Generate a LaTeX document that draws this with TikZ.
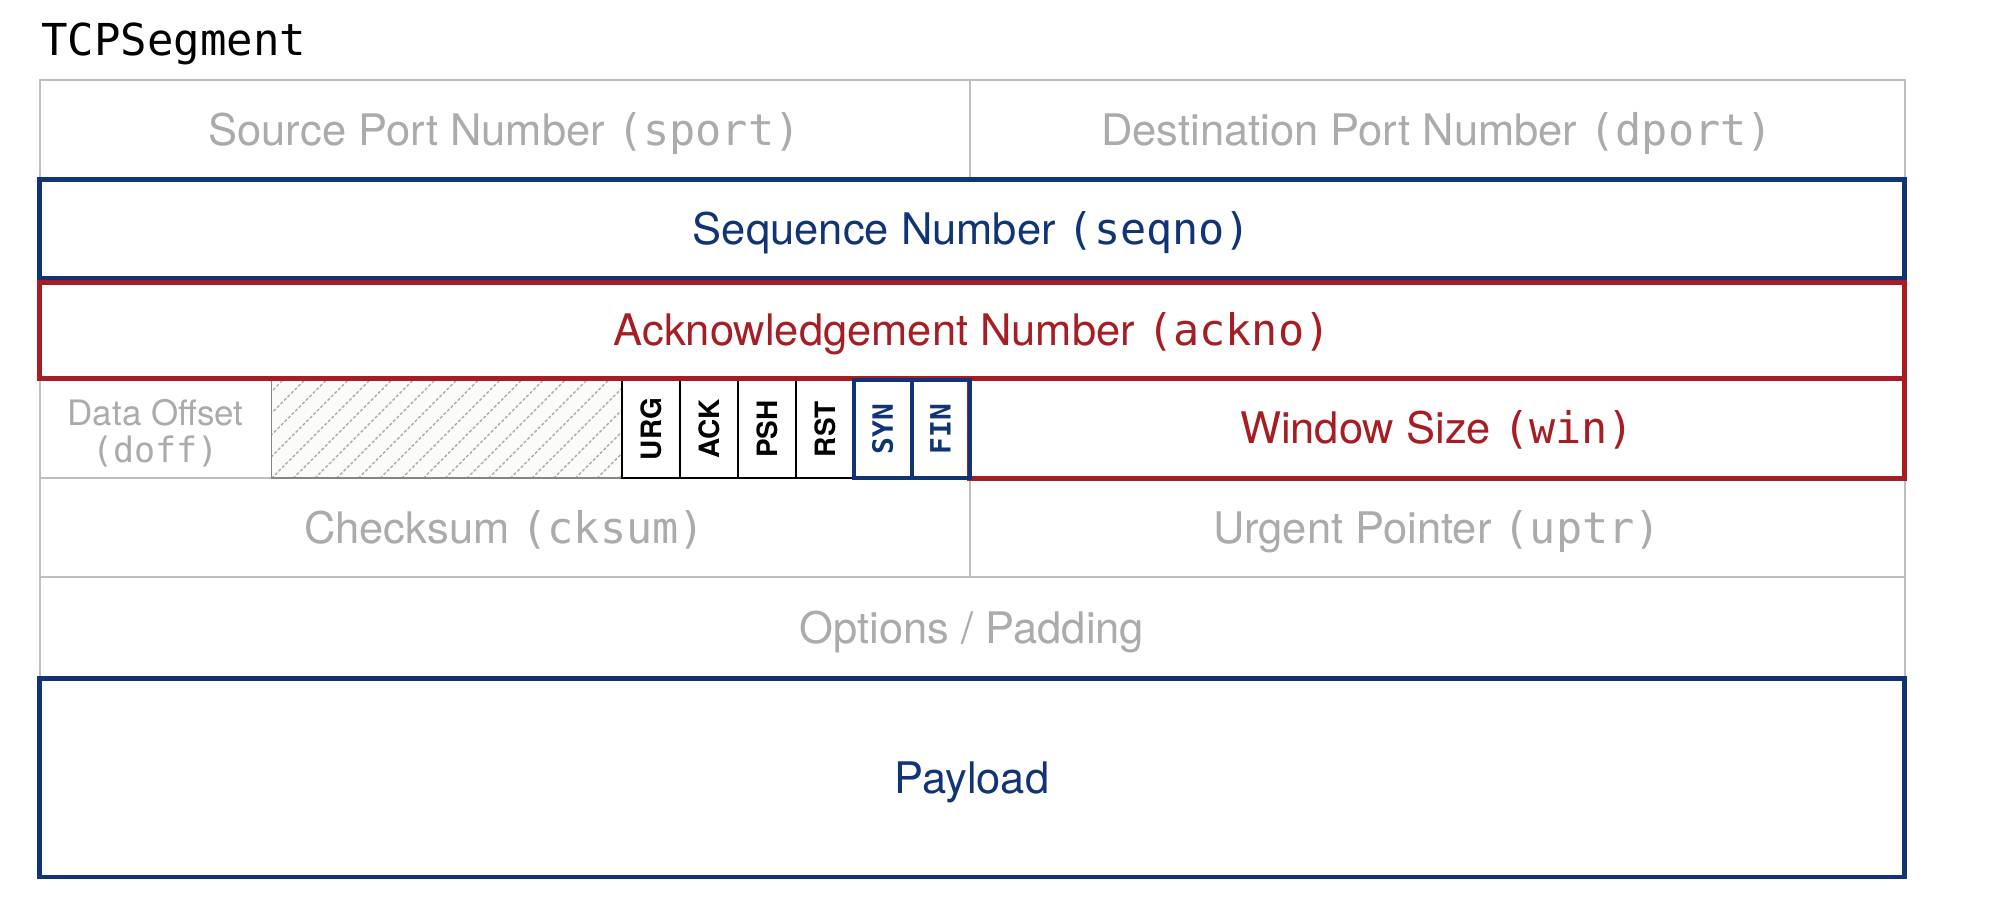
\documentclass[tikz,border=0pt]{standalone}
\usepackage{fontspec}
\setmainfont{TeX Gyre Heros}
\setmonofont{DejaVu Sans Mono}
\definecolor{navy}{HTML}{103475}
\definecolor{crim}{HTML}{A61E24}
\definecolor{ltext}{HTML}{ABABAB}
\definecolor{lline}{HTML}{BEBEBE}
\definecolor{hatchc}{HTML}{ACACAC}
\definecolor{hborder}{HTML}{858585}
\definecolor{hfill}{HTML}{FBFBF9}
\newcommand\biglbl{\fontsize{43.5}{50}\selectfont}
\newcommand\midlbl{\fontsize{35}{37}\selectfont}
\newcommand\flaglbl{\fontsize{28}{30}\selectfont}
\begin{document}
\begin{tikzpicture}[x=1pt,y=-1pt,
  field/.style={rectangle, inner sep=0pt, outer sep=0pt, anchor=north west},
  capc/.style={text height=31pt, text depth=0pt},
  grayf/.style={field, draw=lline, line width=2pt, text=ltext, font=\biglbl},
  bluef/.style={field, draw=navy, line width=4.5pt, text=navy, font=\biglbl},
  redf/.style={field, draw=crim, line width=4.5pt, text=crim, font=\biglbl},
  rsvf/.style={field, draw=hborder, line width=1.8pt, fill=hfill},
  hatchline/.style={draw=hatchc, line width=1.4pt, dash pattern=on 3pt off 2pt},
  flagf/.style={field, draw=black, line width=2.2pt, text=black, font=\flaglbl\bfseries, minimum width=58pt, minimum height=98.3pt},
  flagb/.style={field, draw=navy, line width=4pt, text=navy, font=\flaglbl\ttfamily\bfseries, minimum width=58pt, minimum height=98.3pt},
  titlef/.style={anchor=base west, inner sep=0pt, font=\fontsize{44}{50}\selectfont\ttfamily, text=black},
  smalltext/.style={inner sep=0pt, font=\midlbl, align=center, text=ltext}
]
\useasboundingbox (0,0) rectangle (1998,924);
\fill[white] (0,0) rectangle (1998,924);

\node[titlef] (title) at (41,55.5) {TCPSegment};

% gray fields
\node[grayf, capc, minimum width=930pt, minimum height=99.7pt] (sport) at (39.5,80) {Source Port Number \texttt{(sport)}};
\node[grayf, capc, minimum width=935pt, minimum height=99.7pt] (dport) at (969.5,80) {Destination Port Number \texttt{(dport)}};
\node[grayf, minimum width=232pt, minimum height=100pt] (doff) at (39.5,378.3) {};
\node[smalltext] (dofftext) at ([yshift=-4.5pt]doff.center) {Data Offset\\\texttt{(doff)}};
\node[grayf, capc, minimum width=930pt, minimum height=99pt] (cksum) at (39.5,478.3) {Checksum \texttt{(cksum)}};
\node[grayf, capc, minimum width=935pt, minimum height=99pt] (uptr) at (969.5,478.3) {Urgent Pointer \texttt{(uptr)}};
\node[grayf, capc, minimum width=1865pt, minimum height=101pt] (opts) at (39.5,577.3) {Options / Padding};

% reserved (hatched)
\node[rsvf, minimum width=350.3pt, minimum height=98.8pt] (rsv) at (271.5,379.5) {};
\begin{scope}
  \clip (rsv.south west) rectangle (rsv.north east);
  \foreach \k in {-6,...,17} {
    \draw[hatchline] ([xshift=\k*21.7pt]rsv.south west) -- ++(110,-110);
  }
\end{scope}
\draw[hborder, line width=1.8pt] (rsv.south west) rectangle (rsv.north east);

% flags
\node[flagf] (urg) at (621.8,380) {\rotatebox{90}{URG}};
\node[flagf] (ackf) at (679.8,380) {\rotatebox{90}{ACK}};
\node[flagf] (psh) at (737.8,380) {\rotatebox{90}{PSH}};
\node[flagf] (rst) at (795.8,380) {\rotatebox{90}{RST}};

% coloured fields
\node[bluef, capc, minimum width=1865pt, minimum height=98.8pt] (seq) at (39.5,179.7) {Sequence Number \texttt{(seqno)}};
\node[redf, capc, minimum width=1865pt, minimum height=95.8pt] (ack) at (39.5,282.5) {Acknowledgement Number \texttt{(ackno)}};
\node[redf, capc, minimum width=935pt, minimum height=100pt] (win) at (969.5,378.3) {Window Size \texttt{(win)}};
\node[flagb] (syn) at (853.6,380) {\rotatebox{90}{SYN}};
\node[flagb] (fin) at (911.5,380) {\rotatebox{90}{FIN}};
\node[bluef, capc, minimum width=1865pt, minimum height=198.5pt] (payload) at (39.5,678.5) {Payload};
\end{tikzpicture}
\end{document}
